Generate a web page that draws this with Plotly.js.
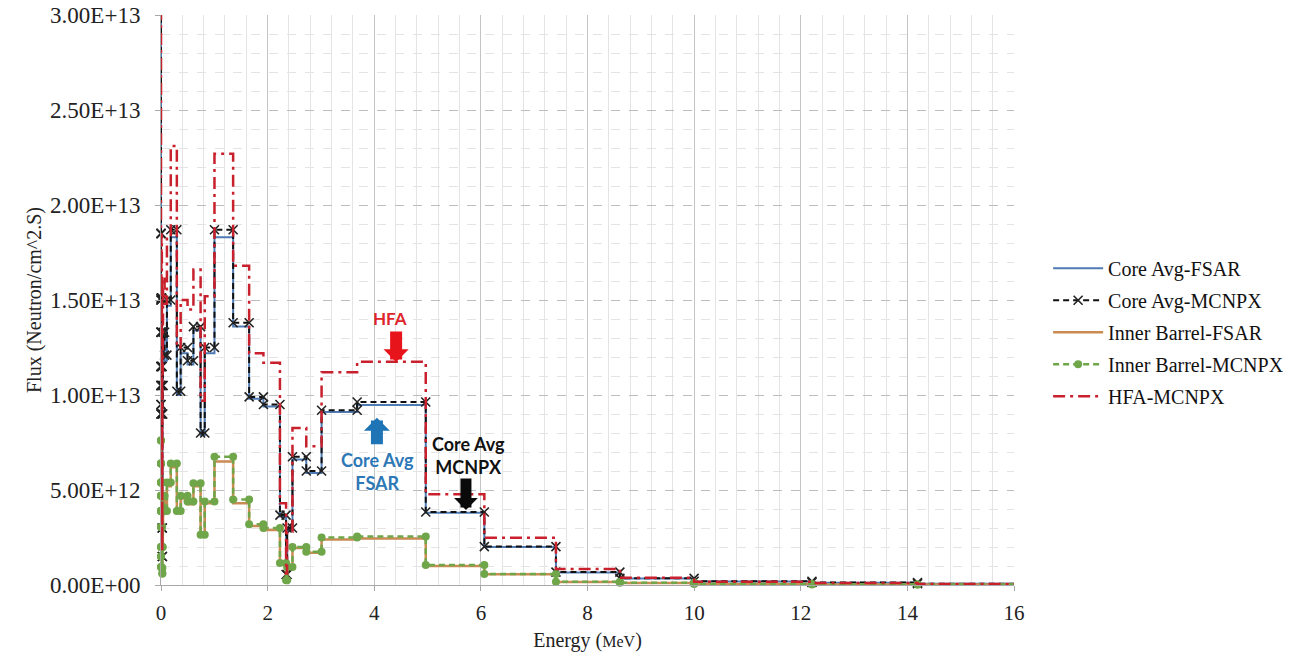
<!DOCTYPE html>
<html>
<head>
<meta charset="utf-8">
<script src="https://cdn.plot.ly/plotly-3.0.1.min.js"></script>
<style>html,body{margin:0;padding:0;background:#fff;}#chart{width:1311px;height:659px;}</style>
</head>
<body>
<div id="chart"></div>
<script>
// Energy group boundaries (MeV), ascending (47 groups)
const energyBounds = [1e-11, 1e-7, 4.14e-7, 8.764e-7, 1.855e-6, 5.043e-6, 1.068e-5, 3.727e-5, 1.013e-4, 2.145e-4,
  4.54e-4, 1.585e-3, 3.355e-3, 7.102e-3, 0.01503, 0.02188, 0.02418, 0.02606, 0.03183, 0.04087,
  0.06738, 0.1111, 0.1832, 0.2972, 0.3688, 0.4979, 0.6081, 0.7427, 0.8208, 1.003,
  1.353, 1.653, 1.921, 2.231, 2.346, 2.365, 2.466, 2.725, 3.012, 3.679,
  4.966, 6.065, 7.408, 8.607, 10.0, 12.21, 14.19, 17.33];

// Group fluxes (n/cm^2.s), same ascending order
const coreFSAR = [3.1e13, 1.8e13, 9.3e12, 8.8e12, 1.12e13, 1.02e13, 1.45e13, 1.3e13, 1.03e13, 1.12e13,
  1.8e13, 1.3e13, 1.48e13, 1.48e13, 1.12e13, 2.9e12, 1.4e12, 8.8e12, 1.02e13, 1.3e13,
  1.18e13, 1.47e13, 1.83e13, 1.0e13, 1.22e13, 1.16e13, 1.34e13, 7.9e12, 1.22e13, 1.83e13,
  1.36e13, 9.8e12, 9.4e12, 3.6e12, 5.3e11, 2.9e12, 6.6e12, 5.9e12, 9.1e12, 9.47e12,
  3.8e12, 2.0e12, 6.6e11, 3.4e11, 1.9e11, 1.2e11, 6e10];

const coreMCNPX = [3.2e13, 1.85e13, 9.5e12, 9.0e12, 1.15e13, 1.05e13, 1.5e13, 1.33e13, 1.05e13, 1.15e13,
  1.85e13, 1.33e13, 1.51e13, 1.51e13, 1.15e13, 3.0e12, 1.5e12, 9.0e12, 1.05e13, 1.33e13,
  1.21e13, 1.5e13, 1.87e13, 1.02e13, 1.25e13, 1.18e13, 1.36e13, 8.0e12, 1.25e13, 1.87e13,
  1.38e13, 9.9e12, 9.5e12, 3.68e12, 5.5e11, 3.0e12, 6.75e12, 6.0e12, 9.2e12, 9.63e12,
  3.84e12, 2.02e12, 6.8e11, 3.5e11, 2.0e11, 1.3e11, 7e10];

const ibFSAR = [7.3e12, 6.2e12, 2.9e12, 1.9e12, 3.8e12, 4.5e12, 5.2e12, 1.4e12, 9.0e11, 3.8e12,
  6.2e12, 4.5e12, 5.2e12, 5.2e12, 2.9e12, 8.5e11, 5.5e11, 1.9e12, 3.8e12, 4.5e12,
  3.8e12, 5.2e12, 6.2e12, 3.8e12, 4.55e12, 4.25e12, 5.2e12, 2.6e12, 4.3e12, 6.5e12,
  4.3e12, 3.1e12, 2.9e12, 1.1e12, 2.4e11, 9.0e11, 1.95e12, 1.7e12, 2.4e12, 2.45e12,
  1.0e12, 5.6e11, 1.6e11, 1.1e11, 5e10, 3e10, 2e10];

const ibMCNPX = [7.6e12, 6.4e12, 3.05e12, 2.0e12, 3.9e12, 4.7e12, 5.4e12, 1.5e12, 9.5e11, 3.9e12,
  6.4e12, 4.7e12, 5.4e12, 5.4e12, 3.05e12, 9.0e11, 6.0e11, 2.0e12, 3.9e12, 4.7e12,
  3.9e12, 5.4e12, 6.4e12, 3.9e12, 4.7e12, 4.4e12, 5.35e12, 2.65e12, 4.4e12, 6.75e12,
  4.5e12, 3.2e12, 3.0e12, 1.16e12, 2.5e11, 9.5e11, 2.0e12, 1.75e12, 2.5e12, 2.55e12,
  1.05e12, 5.8e11, 1.7e11, 1.2e11, 5e10, 3e10, 2e10];

const hfaMCNPX = [3.3e13, 2.25e13, 1.16e13, 1.1e13, 1.4e13, 1.28e13, 1.83e13, 1.62e13, 1.28e13, 1.4e13,
  2.26e13, 1.62e13, 1.84e13, 1.84e13, 1.4e13, 3.7e12, 1.8e12, 1.1e13, 1.28e13, 1.62e13,
  1.48e13, 1.83e13, 2.31e13, 1.25e13, 1.5e13, 1.45e13, 1.66e13, 9.7e12, 1.52e13, 2.27e13,
  1.68e13, 1.22e13, 1.17e13, 4.3e12, 6e11, 2.8e12, 8.26e12, 7.3e12, 1.12e13, 1.175e13,
  4.77e12, 2.49e12, 8.4e11, 3.8e11, 1.7e11, 1.0e11, 5e10];

const seriesNames = ['Core Avg-FSAR', 'Core Avg-MCNPX', 'Inner Barrel-FSAR', 'Inner Barrel-MCNPX', 'HFA-MCNPX'];

const xTickVals = [0, 2, 4, 6, 8, 10, 12, 14, 16];
const xTickText = ['0', '2', '4', '6', '8', '10', '12', '14', '16'];
const yTickVals = [0, 5e12, 1e13, 1.5e13, 2e13, 2.5e13, 3e13];
const yTickText = ['0.00E+00', '5.00E+12', '1.00E+13', '1.50E+13', '2.00E+13', '2.50E+13', '3.00E+13'];

// Build step (histogram) point pairs from group bounds and values
function steps(vals) {
  const x = [], y = [];
  for (let i = 0; i < vals.length; i++) {
    x.push(energyBounds[i]); y.push(vals[i]);
    x.push(energyBounds[i + 1]); y.push(vals[i]);
  }
  return {x, y};
}

const s0 = steps(coreFSAR), s1 = steps(coreMCNPX), s2 = steps(ibFSAR), s3 = steps(ibMCNPX), s4 = steps(hfaMCNPX);

const traces = [
  {x: s0.x, y: s0.y, name: seriesNames[0], mode: 'lines', legendgroup: 'a',
   line: {color: '#4f7bb5', width: 2}},
  {x: s1.x, y: s1.y, name: seriesNames[1], mode: 'lines+markers', legendgroup: 'b', cliponaxis: false,
   line: {color: '#111111', width: 2, dash: '6px,4px'},
   marker: {symbol: 'x-thin', size: 9, color: '#222', line: {width: 1.6, color: '#222'}}},
  {x: s2.x, y: s2.y, name: seriesNames[2], mode: 'lines', legendgroup: 'c',
   line: {color: '#c98b52', width: 2.5}},
  {x: s3.x, y: s3.y, name: seriesNames[3], mode: 'lines+markers', legendgroup: 'd', cliponaxis: false,
   line: {color: '#6fa64a', width: 2.5, dash: '6px,4px'},
   marker: {symbol: 'circle', size: 8, color: '#6fa64a'}},
  {x: s4.x, y: s4.y, name: seriesNames[4], mode: 'lines', legendgroup: 'e',
   line: {color: '#c8202c', width: 2.5, dash: '12px,5px,3px,5px'}}
];

const serif = 'Liberation Serif, Times New Roman, serif';
const bold = 'Lato, Open Sans, sans-serif';

const layout = {
  width: 1311, height: 659,
  margin: {l: 161, r: 297, t: 15, b: 74},
  paper_bgcolor: '#ffffff', plot_bgcolor: '#ffffff',
  showlegend: true,
  legend: {x: 1.04, y: 0.59, xanchor: 'left', yanchor: 'top', tracegroupgap: 3, itemwidth: 50,
    font: {family: serif, size: 20, color: '#111'}, bgcolor: 'rgba(0,0,0,0)'},
  xaxis: {
    range: [0, 16], tickmode: 'array', tickvals: xTickVals, ticktext: xTickText,
    tickfont: {family: serif, size: 21, color: '#222'},
    showgrid: true, gridcolor: '#c4c4c4', gridwidth: 1,
    minor: {dtick: 0.4, showgrid: true, gridcolor: '#e4e4e4', gridwidth: 1, ticks: ''},
    showline: true, linecolor: '#a8a8a8', linewidth: 1,
    ticks: 'outside', ticklen: 5, tickcolor: '#a8a8a8', ticklabelstandoff: 4,
    zeroline: false,
    title: {text: 'Energy (<span style="font-size:16px">MeV</span>)', font: {family: serif, size: 20, color: '#222'}, standoff: 8}
  },
  yaxis: {
    range: [0, 3e13], tickmode: 'array', tickvals: yTickVals, ticktext: yTickText,
    tickfont: {family: serif, size: 23, color: '#222'},
    showgrid: true, gridcolor: '#bdbdbd', gridwidth: 1, griddash: 'dash',
    minor: {dtick: 1e12, showgrid: true, gridcolor: '#e4e4e4', gridwidth: 1, ticks: ''},
    showline: true, linecolor: '#a8a8a8', linewidth: 1,
    ticks: 'outside', ticklen: 5, tickcolor: '#a8a8a8', ticklabelstandoff: 10,
    zeroline: false,
    title: {text: 'Flux (Neutron/cm^2.S)', font: {family: serif, size: 20, color: '#222'}, standoff: 3}
  },
  annotations: [
    {x: 4.30, y: 1.405e13, xref: 'x', yref: 'y', text: '<b>HFA</b>', showarrow: false,
     font: {family: bold, size: 17, color: '#e0262b'}},
    {x: 4.41, y: 1.174e13, xref: 'x', yref: 'y', text: '', showarrow: true,
     ax: 0, ay: -32, arrowhead: 1, arrowsize: 0.35, arrowwidth: 12, arrowcolor: '#e8141c'},
    {x: 4.07, y: 6.0e12, xref: 'x', yref: 'y', text: '<b>Core Avg<br>FSAR</b>', showarrow: false,
     font: {family: bold, size: 18, color: '#2d78b6'}},
    {x: 4.05, y: 8.8e12, xref: 'x', yref: 'y', text: '', showarrow: true,
     ax: 0, ay: 28, arrowhead: 1, arrowsize: 0.36, arrowwidth: 12, arrowcolor: '#1f74b6'},
    {x: 5.76, y: 6.79e12, xref: 'x', yref: 'y', text: '<b>Core Avg<br>MCNPX</b>', showarrow: false,
     font: {family: bold, size: 18, color: '#111'}},
    {x: 5.72, y: 3.95e12, xref: 'x', yref: 'y', text: '', showarrow: true,
     ax: 0, ay: -33, arrowhead: 1, arrowsize: 0.36, arrowwidth: 11, arrowcolor: '#0a0a0a'}
  ]
};

Plotly.newPlot('chart', traces, layout, {displayModeBar: false, staticPlot: true});
</script>
</body>
</html>
